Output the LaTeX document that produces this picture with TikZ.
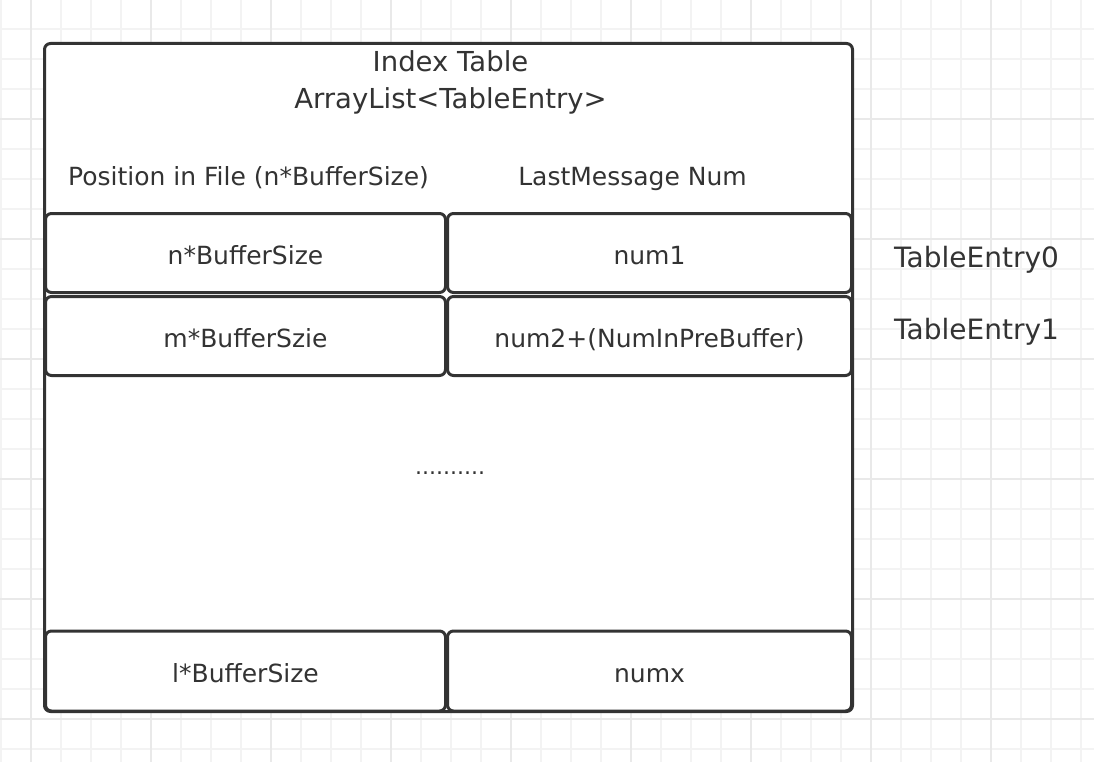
\documentclass[tikz,border=0pt]{standalone}
\usepackage{fontspec}
\setmainfont{DejaVu Sans}
\usetikzlibrary{positioning}

\definecolor{ink}{HTML}{333333}
\definecolor{gridminor}{HTML}{F3F3F3}
\definecolor{gridmajor}{HTML}{E9E9E9}

\begin{document}
\begin{tikzpicture}[x=1pt, y=-1pt, node distance=2pt, text=ink]
    % Styles
    \tikzstyle{cell} = [rectangle, draw=ink, line width=3pt, rounded corners=6pt, fill=white,
                        minimum width=400pt, minimum height=79pt, inner sep=0pt, outer sep=0pt,
                        text height=22pt, text depth=0pt, font=\fontsize{25}{30}\selectfont]
    \tikzstyle{numcell} = [cell, minimum width=404pt]
    \tikzstyle{label} = [inner sep=0pt, text height=18.2pt, text depth=0pt, font=\fontsize{25}{30}\selectfont]
    \tikzstyle{title} = [inner sep=0pt, text height=20pt, text depth=0pt, font=\fontsize{27.5}{33}\selectfont]
    \tikzstyle{entry} = [inner sep=0pt, text height=20.4pt, text depth=0pt, font=\fontsize{28}{34}\selectfont]

    % Background grid
    \useasboundingbox (0,0) rectangle (1094,762);
    \fill[white] (0,0) rectangle (1094,762);
    \foreach \x in {1,31,...,1091} \draw[gridminor, line width=2pt] (\x,0) -- (\x,762);
    \foreach \y in {29,59,...,759} \draw[gridminor, line width=2pt] (0,\y) -- (1094,\y);
    \foreach \x in {31,151,...,1091} \draw[gridmajor, line width=2pt] (\x,0) -- (\x,762);
    \foreach \y in {119,239,...,759} \draw[gridmajor, line width=2pt] (0,\y) -- (1094,\y);

    % Outer table
    \draw[ink, line width=3pt, rounded corners=6pt, fill=white] (44.5,43.5) rectangle (852.5,711.5);
    \node[title] (title) at (450.5,62) {Index Table};
    \node[title] (type) at (450.5,99) {ArrayList<TableEntry>};
    \node[label] (poshead) at (248.5,176) {Position in File (n*BufferSize)};
    \node[label] (numhead) at (632.5,176) {LastMessage Num};

    % Entries
    \node[cell] (pos0) at (245.5,253) {n*BufferSize};
    \node[numcell, right=of pos0] (num0) {num1};
    \node[cell, below=4pt of pos0] (pos1) {m*BufferSzie};
    \node[numcell, right=of pos1] (num1) {num2+(NumInPreBuffer)};
    \node[label, anchor=base, font=\fontsize{22}{26}\selectfont] (dots) at (450,474) {..........};
    \node[cell, minimum height=80pt] (posx) at (245.5,671) {l*BufferSize};
    \node[numcell, minimum height=80pt, right=of posx] (numx) {numx};

    % Entry labels
    \node[entry, right=42.5pt of num0, yshift=-4pt] (entry0) {TableEntry0};
    \node[entry, right=42.5pt of num1, yshift=7pt] (entry1) {TableEntry1};
\end{tikzpicture}
\end{document}
